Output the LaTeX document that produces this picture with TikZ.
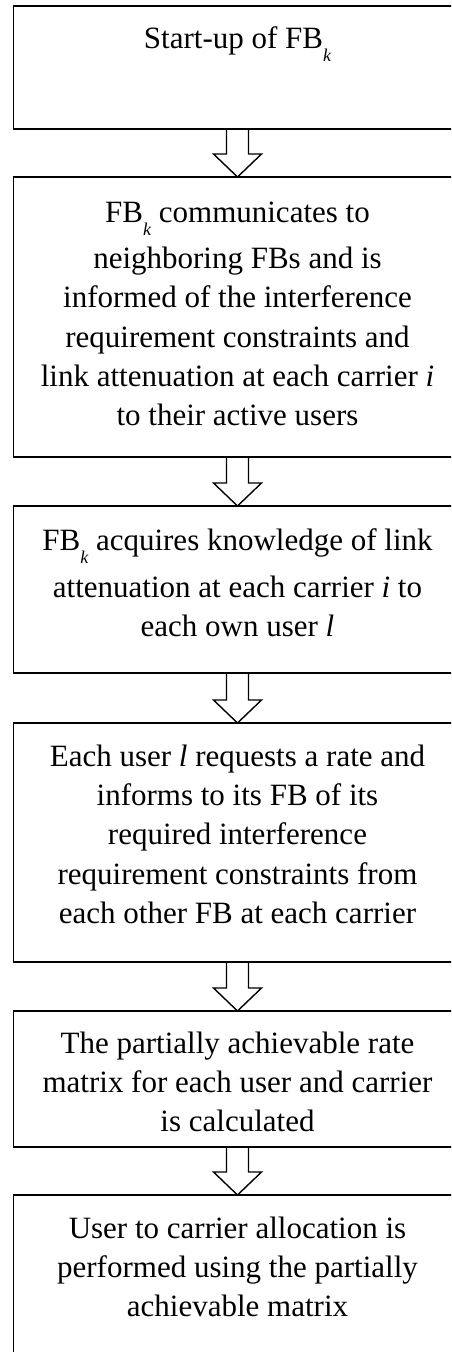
\documentclass[tikz,border=0pt]{standalone}
\usepackage{fontspec}
\setmainfont{Liberation Serif}
\usetikzlibrary{calc}
\newcommand\subk{\raisebox{-13pt}{\fontsize{18}{18}\selectfont\itshape k}}
\newcommand\firststrut{\rule{0pt}{25pt}}
\newcommand\blockarrow[2]{%
  \draw[arr] ($(#1.south)+(-11,0)$) -- ($(#2.north)+(-11,23)$) -- ($(#2.north)+(-24,23)$)
    -- (#2.north) -- ($(#2.north)+(24,23)$) -- ($(#2.north)+(11,23)$) -- ($(#1.south)+(11,0)$);}
\begin{document}
\begin{tikzpicture}[x=1pt,y=1pt,
  box/.style={draw, line width=1.8pt, minimum width=448pt, inner sep=0pt, outer sep=0pt, anchor=north west},
  txt/.style={inner sep=0pt, anchor=north, align=center, font=\fontsize{31}{39.3}\selectfont},
  arr/.style={draw, line width=1.4pt, line join=miter}]
\clip (0,0) rectangle (451,-1352);
\fill[white] (0,0) rectangle (451,-1352);
\node[box, minimum height=123pt] (b1) at (13.5,-6) {};
\node[box, minimum height=280pt] (b2) at (13.5,-177) {};
\node[box, minimum height=167pt] (b3) at (13.5,-506) {};
\node[box, minimum height=239pt] (b4) at (13.5,-723) {};
\node[box, minimum height=136pt] (b5) at (13.5,-1011) {};
\node[box, minimum height=250pt] (b6) at (13.5,-1195) {};
\node[txt] (t1) at ($(b1.north)+(0,-17)$) {\firststrut Start-up of FB\subk};
\node[txt] (t2) at ($(b2.north)+(0,-20)$) {\firststrut FB\subk\ communicates to\\[7pt]
  neighboring FBs and is\\ informed of the interference\\ requirement constraints and\\
  link attenuation at each carrier \textit{i}\\ to their active users};
\node[txt] (t3) at ($(b3.north)+(0,-19)$) {\firststrut FB\subk\ acquires knowledge of link\\[7.5pt]
  attenuation at each carrier \textit{i} to\\ each own user \textit{l}};
\node[txt] (t4) at ($(b4.north)+(0,-18)$) {\firststrut Each user \textit{l} requests a rate and\\
  informs to its FB of its\\ required interference\\ requirement constraints from\\
  each other FB at each carrier};
\node[txt] (t5) at ($(b5.north)+(0,-17)$) {\firststrut The partially achievable rate\\
  matrix for each user and carrier\\ is calculated};
\node[txt] (t6) at ($(b6.north)+(0,-18)$) {\firststrut User to carrier allocation is\\
  performed using the partially\\ achievable matrix};
\blockarrow{b1}{b2}
\blockarrow{b2}{b3}
\blockarrow{b3}{b4}
\blockarrow{b4}{b5}
\blockarrow{b5}{b6}
\end{tikzpicture}
\end{document}
